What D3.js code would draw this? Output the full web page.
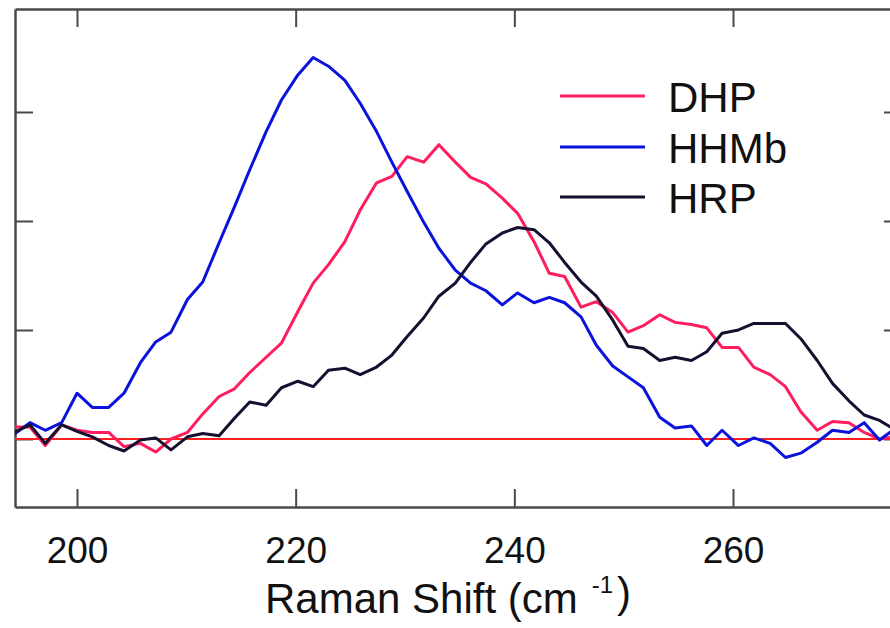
<!DOCTYPE html>
<html>
<head>
<meta charset="utf-8">
<script src="https://cdn.jsdelivr.net/npm/d3@7"></script>
<style>
  html, body { margin: 0; padding: 0; background: #fff; }
  svg { display: block; font-family: "Liberation Sans", Arial, sans-serif; }
</style>
</head>
<body>
<svg id="chart" width="890" height="628"></svg>
<script>
// Raman shift (cm-1)
const ramanShift = [194.2,195.7,197.1,198.6,200.0,201.4,202.9,204.3,205.8,207.2,208.6,210.1,211.5,213.0,214.4,215.8,217.3,218.7,220.2,221.6,223.0,224.5,225.9,227.4,228.8,230.2,231.7,233.1,234.6,236.0,237.4,238.9,240.3,241.8,243.2,244.6,246.1,247.5,249.0,250.4,251.8,253.3,254.7,256.2,257.6,259.0,260.5,261.9,263.4,264.8,266.2,267.7,269.1,270.6,272.0,273.4,274.9];

const seriesNames = ["DHP", "HHMb", "HRP"];

const dhp = [0.11,0.11,-0.06,0.13,0.08,0.06,0.06,-0.07,-0.04,-0.12,0.00,0.06,0.23,0.39,0.46,0.61,0.75,0.88,1.17,1.43,1.60,1.81,2.10,2.35,2.41,2.59,2.54,2.70,2.54,2.40,2.34,2.21,2.07,1.81,1.52,1.49,1.21,1.26,1.16,0.98,1.04,1.14,1.07,1.05,1.02,0.84,0.84,0.66,0.59,0.48,0.25,0.08,0.16,0.15,0.06,0.00,0.02];

const hhmb = [0.04,0.15,0.08,0.15,0.42,0.29,0.29,0.42,0.70,0.89,0.98,1.28,1.44,1.80,2.13,2.47,2.82,3.11,3.34,3.50,3.42,3.29,3.08,2.82,2.54,2.27,1.99,1.75,1.55,1.43,1.36,1.23,1.34,1.25,1.30,1.25,1.12,0.86,0.67,0.57,0.47,0.20,0.10,0.12,-0.06,0.08,-0.06,0.01,-0.04,-0.17,-0.13,-0.03,0.08,0.06,0.15,-0.01,0.10];

const hrp = [0.06,0.13,-0.04,0.13,0.07,0.02,-0.06,-0.11,-0.01,0.01,-0.10,0.02,0.05,0.03,0.19,0.34,0.31,0.47,0.53,0.48,0.63,0.65,0.59,0.66,0.77,0.94,1.11,1.31,1.43,1.62,1.79,1.89,1.94,1.92,1.80,1.62,1.44,1.31,1.09,0.85,0.83,0.72,0.75,0.72,0.80,0.97,1.00,1.06,1.06,1.06,0.92,0.72,0.51,0.35,0.22,0.17,0.08];

const xTicks = [200, 220, 240, 260];
const xTickLabels = ["200", "220", "240", "260"];
const yTicks = [0, 1, 2, 3];

const colors = { DHP: "#ff1d5e", HHMb: "#0b12dc", HRP: "#15102f" };

const svg = d3.select("#chart");
const L = 15, R = 891, T = 9, B = 507;

const x = d3.scaleLinear().domain([194.33, 274.45]).range([L, R]);
const y = d3.scaleLinear().domain([-0.624, 3.945]).range([B, T]);

svg.append("defs").append("clipPath").attr("id", "plotclip")
  .append("rect").attr("x", L).attr("y", T).attr("width", R - L).attr("height", B - T);

const axisColor = "#4a4a4a";

// Axes (frame)
const gB = svg.append("g").attr("transform", `translate(0,${B})`)
  .call(d3.axisBottom(x).tickValues(xTicks).tickSizeInner(-18).tickSizeOuter(0).tickFormat((d,i) => xTickLabels[i]).tickPadding(30));
const gT = svg.append("g").attr("transform", `translate(0,${T})`)
  .call(d3.axisTop(x).tickValues(xTicks).tickSizeInner(-18).tickSizeOuter(0).tickFormat(""));
const gL = svg.append("g").attr("transform", `translate(${L},0)`)
  .call(d3.axisLeft(y).tickValues(yTicks).tickSizeInner(-18).tickSizeOuter(0).tickFormat(""));
const gR = svg.append("g").attr("transform", `translate(${R},0)`)
  .call(d3.axisRight(y).tickValues(yTicks).tickSizeInner(-7).tickSizeOuter(0).tickFormat(""));

[gB, gT, gL, gR].forEach(g => {
  g.select(".domain").attr("stroke", axisColor).attr("stroke-width", 2.5);
  g.selectAll(".tick line").attr("stroke", axisColor).attr("stroke-width", 2);
});
gB.selectAll(".tick text")
  .attr("font-size", 37).attr("fill", "#111")
  .attr("font-family", "'Liberation Sans', Arial, sans-serif");

// Zero baseline
svg.append("line")
  .attr("x1", L).attr("x2", R)
  .attr("y1", y(0)).attr("y2", y(0))
  .attr("stroke", "#ff2020").attr("stroke-width", 1.8);

// Series lines
const data = { DHP: dhp, HHMb: hhmb, HRP: hrp };
const line = d3.line().x((d, i) => x(ramanShift[i])).y(d => y(d));
const plot = svg.append("g").attr("clip-path", "url(#plotclip)");
["DHP", "HHMb", "HRP"].forEach(name => {
  plot.append("path")
    .datum(data[name])
    .attr("fill", "none")
    .attr("stroke", colors[name])
    .attr("stroke-width", 3)
    .attr("stroke-linejoin", "round")
    .attr("d", line);
});

// Legend
const legendY = [96, 147, 197];
const legend = svg.append("g");
seriesNames.forEach((name, i) => {
  legend.append("line")
    .attr("x1", 560).attr("x2", 645)
    .attr("y1", legendY[i]).attr("y2", legendY[i])
    .attr("stroke", colors[name]).attr("stroke-width", 3);
  legend.append("text")
    .attr("x", 668).attr("y", legendY[i] + 16)
    .attr("font-size", 42).attr("fill", "#111")
    .text(name);
});

// X axis title
const title = svg.append("text")
  .attr("x", 265).attr("y", 613)
  .attr("font-size", 42).attr("fill", "#111");
title.append("tspan").text("Raman Shift (cm");
title.append("tspan").attr("dx", 14).attr("dy", -20).attr("font-size", 24).text("-1");
title.append("tspan").attr("dx", 4).attr("dy", 14).text(")");
</script>
</body>
</html>
